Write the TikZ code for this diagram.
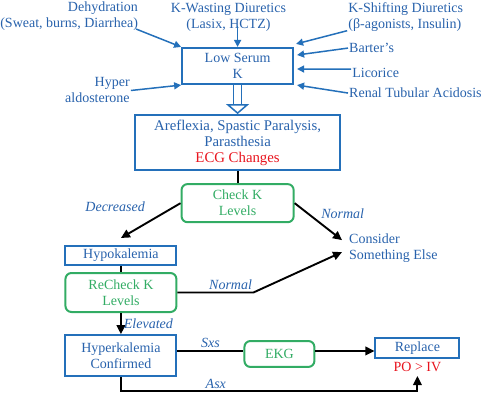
\documentclass[tikz,border=0pt]{standalone}
\usepackage{fontspec}
\setmainfont{Liberation Serif}
\usepackage{tikz}
\usetikzlibrary{arrows.meta}
\definecolor{kblue}{RGB}{36,112,186}
\definecolor{ktext}{RGB}{40,98,172}
\definecolor{kgreen}{RGB}{50,172,100}
\definecolor{kred}{RGB}{232,20,30}

\tikzset{
  bluebox/.style={draw=kblue, line width=2pt, rectangle, text=ktext, align=center, inner sep=1pt},
  greenbox/.style={draw=kgreen, line width=2pt, rectangle, rounded corners=6pt, text=kgreen, align=center, inner sep=1pt},
  src/.style={text=ktext, inner sep=1pt},
  lbl/.style={text=ktext, font=\fontsize{14}{16}\selectfont\itshape, inner sep=2pt},
  srcarrow/.style={->, >={Triangle[length=7pt,width=7pt]}, kblue, line width=1.5pt},
  arr/.style={->, >={Triangle[length=9pt,width=8.5pt]}, black, line width=1.9pt},
  dblarrow/.style={kblue, line width=1.5pt, double=white, double distance=6.5pt, -{Triangle[open, fill=white, length=10pt, width=23pt]}}
}

\begin{document}
\begin{tikzpicture}[font=\fontsize{14}{16}\selectfont]
\useasboundingbox (0,0) rectangle (17.08,-14.41);

\node[bluebox, minimum width=3.9cm, minimum height=1.27cm] (low) at (8.35,-2.32) {Low Serum\\K};

% causes
\node[src, align=right, left of=low, xshift=-2.46cm, yshift=1.74cm, anchor=east] (dehyd) {Dehydration\\(Sweat, burns, Diarrhea)};
\node[src, align=center, above of=low, xshift=-0.32cm, yshift=0.72cm] (kwast) {K-Wasting Diuretics\\(Lasix, HCTZ)};
\node[src, align=left, right of=low, xshift=2.85cm, yshift=1.72cm, anchor=west] (kshift) {K-Shifting Diuretics\\(β-agonists, Insulin)};
\node[src, right of=low, xshift=2.88cm, yshift=0.63cm, anchor=west] (barter) {Barter’s};
\node[src, right of=low, xshift=2.99cm, yshift=-0.25cm, anchor=west] (licorice) {Licorice};
\node[src, right of=low, xshift=2.88cm, yshift=-0.95cm, anchor=west] (rta) {Renal Tubular Acidosis};
\node[src, align=right, left of=low, xshift=-2.75cm, yshift=-0.86cm, anchor=east] (hyperaldo) {Hyper\\aldosterone};

\draw[srcarrow] ([xshift=-3pt,yshift=3pt]dehyd.south east) -- (low.north west);
\draw[srcarrow] ([yshift=6pt]kwast.south -| low.north) -- (low.north);
\draw[srcarrow] ([yshift=2pt]kshift.south west) -- ([xshift=2pt,yshift=3pt]low.north east);
\draw[srcarrow] (barter.west) -- ([xshift=3pt,yshift=11pt]low.east);
\draw[srcarrow] ([yshift=4pt]licorice.west) -- ([xshift=3pt,yshift=-3pt]low.east);
\draw[srcarrow] (rta.west) -- ([xshift=3pt]low.south east);
\draw[srcarrow] (hyperaldo.east) -- (low.south west);

\node[bluebox, font=\fontsize{14.8}{16}\selectfont, minimum width=7.21cm, minimum height=1.93cm, below of=low, yshift=-1.69cm] (sym) {Areflexia, Spastic Paralysis,\\Parasthesia\\{\color{kred}ECG Changes}};
\draw[dblarrow] (low) -- (sym);

\node[greenbox, minimum width=3.94cm, minimum height=1.34cm, below of=sym, yshift=-1.13cm] (check) {Check K\\Levels};
\draw[line width=1.9pt] (sym) -- (check);

\node[bluebox, minimum width=3.9cm, minimum height=0.67cm, below of=check, xshift=-4.10cm, yshift=-0.84cm] (hypo) {Hypokalemia};
\node[src, align=left, right of=check, xshift=2.88cm, yshift=-1.58cm, anchor=west] (consider) {Consider\\Something Else};
\draw[arr] (check.west) -- node[lbl, above left, xshift=-3pt, yshift=6pt] {Decreased} ([yshift=7pt]hypo.north);
\draw[arr] (check.east) -- node[lbl, above right] {Normal} ([xshift=-6pt,yshift=8pt]consider.west);

\node[greenbox, minimum width=3.9cm, minimum height=1.37cm, below of=hypo, yshift=-0.30cm] (recheck) {ReCheck K\\Levels};
\draw[line width=1.9pt] (hypo) -- (recheck);
\draw[arr] (recheck.east) -- node[lbl, above, pos=.7] {Normal} ++(2.67,0) -- ([xshift=-6pt,yshift=-4pt]consider.west);

\node[bluebox, minimum width=3.9cm, minimum height=1.44cm, below of=recheck, yshift=-1.22cm] (hyper) {Hyperkalemia\\Confirmed};
\draw[arr] (recheck) -- node[lbl, right] {Elevated} (hyper);

\node[greenbox, minimum width=2.46cm, minimum height=0.91cm, right of=hyper, xshift=4.57cm, yshift=0.06cm] (ekg) {EKG};
\node[bluebox, minimum width=2.95cm, minimum height=0.70cm, right of=ekg, xshift=3.85cm, yshift=0.21cm] (replace) {Replace};
\node[below of=replace, yshift=0.33cm, text=kred, inner sep=1pt] (po) {PO > IV};

\draw[line width=1.9pt] ([yshift=3pt]hyper.east |- ekg.west) -- node[lbl, above] {Sxs} ([yshift=3pt]ekg.west);
\draw[arr] ([yshift=3pt]ekg.east) -- ([yshift=3pt]ekg.east -| replace.west);
\draw[arr] (hyper.south) -- ++(0,-0.49) -| node[lbl, above, pos=.16] {Asx} ([yshift=-3pt]po.south);
\end{tikzpicture}
\end{document}
